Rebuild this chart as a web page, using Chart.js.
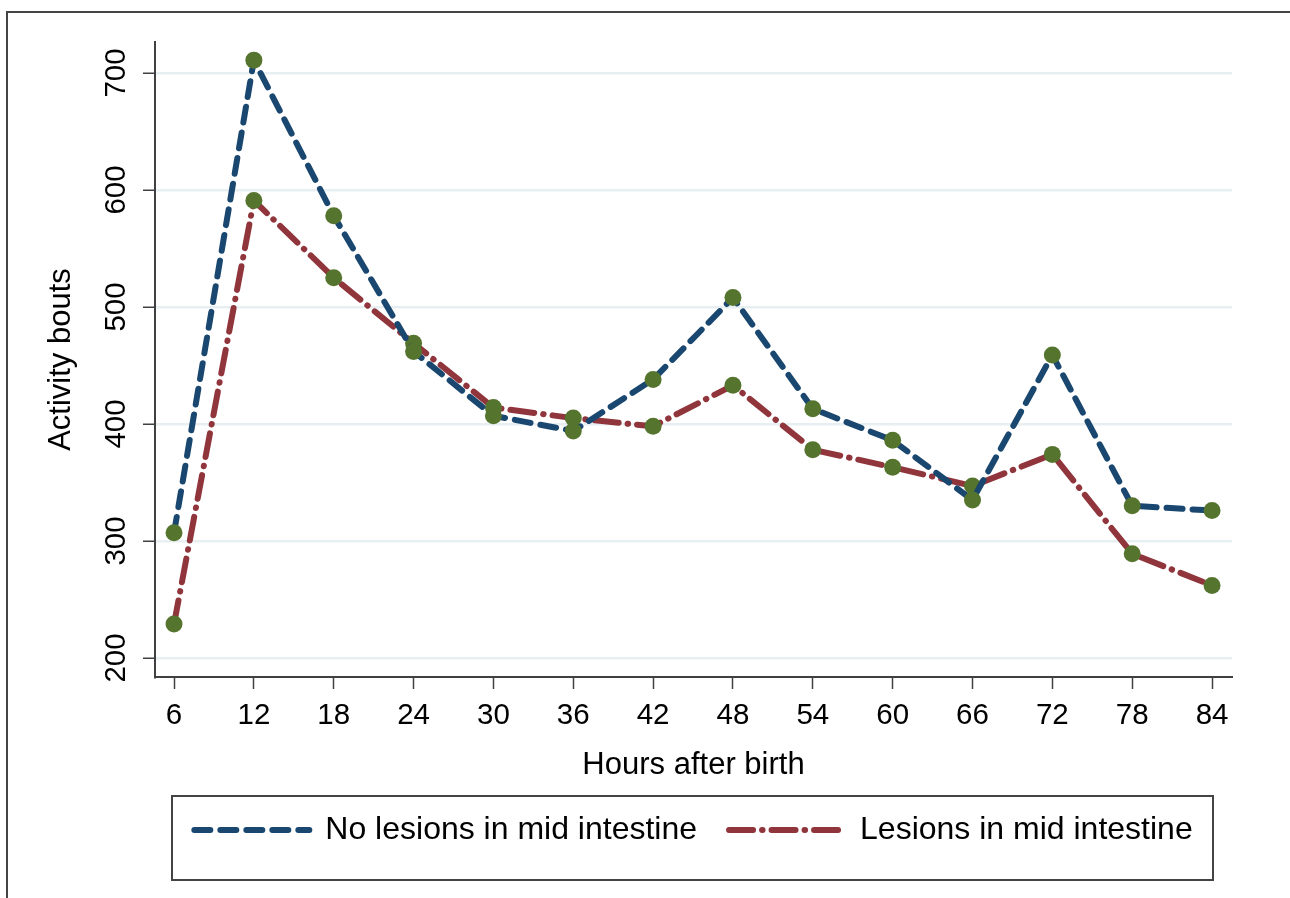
<!DOCTYPE html>
<html>
<head>
<meta charset="utf-8">
<title>Activity bouts</title>
<script src="https://cdn.jsdelivr.net/npm/chart.js@4.4.1/dist/chart.umd.min.js"></script>
<style>
  html, body { margin: 0; padding: 0; background: #fff; }
  #wrap { width: 1290px; height: 898px; position: relative; }
</style>
</head>
<body>
<div id="wrap"><canvas id="chart"></canvas></div>
<script>
// values
let hours = [6, 12, 18, 24, 30, 36, 42, 48, 54, 60, 66, 72, 78, 84];
let no_lesions = [307, 711, 578, 462, 407, 394, 438, 508, 413, 386, 335, 459, 330, 326];
let lesions = [229, 591, 525, 469, 414, 405, 398, 433, 378, 363, 347, 374, 289, 262];
let y_ticks = [200, 300, 400, 500, 600, 700];

const navy = '#1a476f';
const maroon = '#90353b';
const marker = '#55752f';
const font_family = '"Liberation Sans", Arial, sans-serif';
const legend_font = 32;

function pairs(values) {
    return values.map((v, i) => ({ x: hours[i], y: v }));
}

// Stata-like outer frame and the box around the legend
const frames = {
    id: 'frames',
    beforeDraw(chart) {
        const ctx = chart.ctx;
        ctx.save();
        ctx.strokeStyle = '#444';
        ctx.lineWidth = 2;
        ctx.strokeRect(7, 12, 1400, 1000);
        ctx.restore();
    },
    afterDraw(chart) {
        const ctx = chart.ctx;
        const a = chart.chartArea;
        const lg = chart.legend;
        const cy = lg.top + lg.options.labels.padding + legend_font / 2;
        ctx.save();
        ctx.strokeStyle = '#444';
        ctx.lineWidth = 2;
        ctx.strokeRect(a.left + 17, cy - 34, (a.right - 19) - (a.left + 17), 84);
        ctx.restore();
    }
};

new Chart(document.getElementById('chart'), {
    type: 'line',
    data: {
        datasets: [
            {
                label: 'No lesions in mid intestine',
                data: pairs(no_lesions),
                borderColor: navy,
                backgroundColor: marker,
                borderWidth: 6,
                borderDash: [16, 10],
                borderCapStyle: 'round',
                borderJoinStyle: 'round',
                pointRadius: 8.5,
                pointBorderWidth: 0,
                pointBackgroundColor: marker,
                tension: 0,
                fill: false
            },
            {
                label: 'Lesions in mid intestine',
                data: pairs(lesions),
                borderColor: maroon,
                backgroundColor: marker,
                borderWidth: 6,
                borderDash: [24, 9, 0.5, 9],
                borderCapStyle: 'round',
                borderJoinStyle: 'round',
                pointRadius: 8.5,
                pointBorderWidth: 0,
                pointBackgroundColor: marker,
                tension: 0,
                fill: false
            }
        ]
    },
    options: {
        responsive: true,
        maintainAspectRatio: false,
        animation: false,
        layout: {
            padding: { left: 0, top: 42, right: 58, bottom: 42 }
        },
        plugins: {
            tooltip: { enabled: false },
            legend: {
                position: 'bottom',
                fullSize: false,
                labels: {
                    usePointStyle: true,
                    pointStyleWidth: 115,
                    padding: 32,
                    color: '#000',
                    font: { family: font_family, size: legend_font },
                    // legend samples drawn as the dashed series lines
                    generateLabels: chart => chart.data.datasets.map((ds, i) => ({
                        text: ds.label,
                        datasetIndex: i,
                        fillStyle: ds.borderColor,
                        strokeStyle: ds.borderColor,
                        lineWidth: ds.borderWidth,
                        lineDash: ds.borderDash,
                        lineCap: 'round',
                        pointStyle: 'line',
                        fontColor: '#000',
                        hidden: false
                    }))
                }
            }
        },
        scales: {
            x: {
                type: 'linear',
                min: 4.57,
                max: 85.5,
                afterBuildTicks: scale => { scale.ticks = hours.map(v => ({ value: v })); },
                afterFit: scale => { scale.height = 105; },
                border: { display: true, color: '#404040', width: 2 },
                grid: {
                    display: true,
                    drawOnChartArea: false,
                    drawTicks: true,
                    tickLength: 12,
                    tickColor: '#404040',
                    tickWidth: 1.5
                },
                ticks: {
                    color: '#000',
                    padding: 9,
                    maxRotation: 0,
                    autoSkip: false,
                    font: { family: font_family, size: 29.5 }
                },
                title: {
                    display: true,
                    text: 'Hours after birth',
                    color: '#000',
                    padding: { top: 0, bottom: 1 },
                    font: { family: font_family, size: 31, lineHeight: 1 }
                }
            },
            y: {
                min: 183.7,
                max: 726.5,
                afterBuildTicks: scale => { scale.ticks = y_ticks.map(v => ({ value: v })); },
                afterFit: scale => { scale.width = 155; },
                border: { display: true, color: '#404040', width: 2 },
                grid: {
                    color: '#e8eff2',
                    lineWidth: 2.5,
                    drawTicks: true,
                    tickLength: 12,
                    tickColor: '#404040',
                    tickWidth: 1.5
                },
                ticks: {
                    color: '#000',
                    padding: 2,
                    minRotation: 90,
                    maxRotation: 90,
                    crossAlign: 'center',
                    font: { family: font_family, size: 29.5 }
                },
                title: {
                    display: true,
                    text: 'Activity bouts',
                    color: '#000',
                    padding: { top: 43, bottom: 0 },
                    font: { family: font_family, size: 31 }
                }
            }
        }
    },
    plugins: [frames]
});
</script>
</body>
</html>
